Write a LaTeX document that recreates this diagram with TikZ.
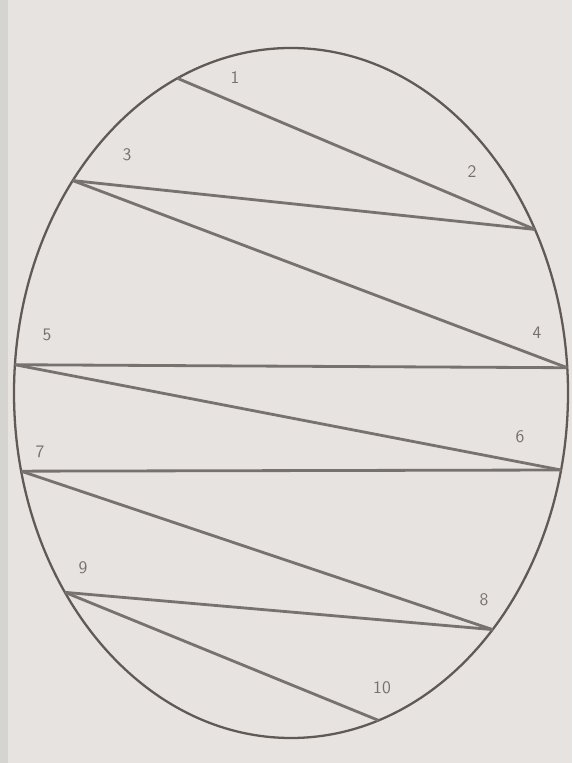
\documentclass[tikz,border=0pt]{standalone}
\usepackage{xcolor}
\usepackage{tikz}
\usetikzlibrary{calc, positioning}
\definecolor{paper}{RGB}{231, 227, 225}
\definecolor{paperedge}{RGB}{214, 212, 208}
\definecolor{pencil}{RGB}{96, 89, 84}
\definecolor{numgray}{RGB}{120, 112, 108}

\begin{document}
\begin{tikzpicture}[x=0.02cm, y=0.02cm,
        rim/.style={line width=1.3pt, pencil},
        chord/.style={line width=1.6pt, pencil!85},
        num/.style={font=\sffamily, numgray, inner sep=1pt}]
        % paper
        \fill[paper] (0,0) rectangle (572,763);
        \fill[paperedge] (0,0) rectangle (8,763);
        \useasboundingbox (0,0) rectangle (572,763);

        % ellipse
        \coordinate (c) at (291,370);
        \draw[rim] (c) ellipse (277 and 345);

        % points on the rim
        \path (c) ++(114.2:277 and 345) coordinate (p1);
        \path (c) ++(28.3:277 and 345) coordinate (p2);
        \path (c) ++(142:277 and 345) coordinate (p3);
        \path (c) ++(4.2:277 and 345) coordinate (p4);
        \path (c) ++(175.3:277 and 345) coordinate (p5);
        \path (c) ++(-12.9:277 and 345) coordinate (p6);
        \path (c) ++(193.1:277 and 345) coordinate (p7);
        \path (c) ++(-43.3:277 and 345) coordinate (p8);
        \path (c) ++(215.3:277 and 345) coordinate (p9);
        \path (c) ++(-71.6:277 and 345) coordinate (p10);

        % zig-zag
        \draw[chord] (p1) -- (p2);
        \draw[chord] (p2) -- (p3);
        \draw[chord] (p3) -- (p4);
        \draw[chord] (p4) -- (p5);
        \draw[chord] (p5) -- (p6);
        \draw[chord] (p6) -- (p7);
        \draw[chord] (p7) -- (p8);
        \draw[chord] (p8) -- (p9);
        \draw[chord] (p9) -- (p10);

        % numbers
        \node[num] (n1) at (235,685) {1};
        \node[num] (n2) at (472,591) {2};
        \node[num] (n3) at (127,608) {3};
        \node[num] (n4) at (537,430) {4};
        \node[num] (n5) at (47,428) {5};
        \node[num] (n6) at (520,326) {6};
        \node[num] (n7) at (40,311) {7};
        \node[num] (n8) at (484,163) {8};
        \node[num] (n9) at (83,195) {9};
        \node[num] (n10) at (382,75) {10};
    \end{tikzpicture}
\end{document}
